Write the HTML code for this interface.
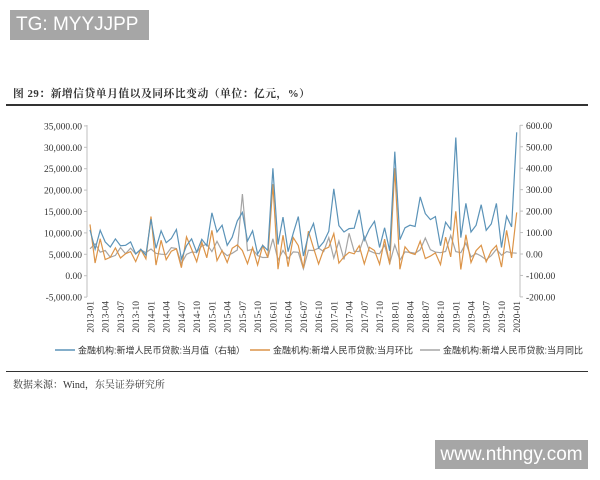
<!DOCTYPE html>
<html><head><meta charset="utf-8"><style>
html,body{margin:0;padding:0;background:#fff;}
body{width:600px;height:480px;position:relative;overflow:hidden;font-family:"Liberation Serif","Noto Serif CJK SC",serif;}
.tg{position:absolute;left:10px;top:10px;width:139px;height:30px;background:#a6a6a6;color:#fff;font:19px "Liberation Sans",sans-serif;line-height:30px;padding-left:6px;box-sizing:border-box;}
.title{position:absolute;left:13px;top:86px;font-size:10.8px;font-weight:bold;color:#333;font-family:"Liberation Serif","Noto Serif CJK SC",serif;letter-spacing:0.5px;}
.rule1{position:absolute;left:6px;top:104px;width:582px;height:2px;background:#333;}
.rule2{position:absolute;left:6px;top:371px;width:582px;height:1px;background:#333;}
.src{position:absolute;left:13px;top:376px;font-size:10px;color:#333;}
.wm{position:absolute;left:435px;top:440px;width:153px;height:29px;background:#a6a6a6;color:#fff;font:19px "Liberation Sans",sans-serif;line-height:29px;text-align:center;}
svg{position:absolute;left:0;top:0;}
</style></head><body>
<div class="tg">TG: MYYJJPP</div>
<div class="title">图 29：新增信贷单月值以及同环比变动（单位：亿元，%）</div>
<div class="rule1"></div>
<svg id="c" width="600" height="480" xmlns="http://www.w3.org/2000/svg"></svg>
<div class="rule2"></div>
<div class="src">数据来源：Wind，东吴证券研究所</div>
<div class="wm">www.nthngy.com</div>
<script>
var v=[10.7,6.2,10.6,7.9,6.7,8.6,7.0,7.1,7.9,5.1,6.2,4.8,
13.2,6.4,10.5,7.7,8.7,10.8,3.9,7.0,8.6,5.5,8.5,7.0,
14.7,10.2,11.8,7.1,9.0,12.8,14.8,8.1,10.5,5.1,7.1,5.9,
25.1,7.3,13.7,5.6,9.9,13.8,4.6,9.5,12.2,6.5,7.9,10.4,
20.3,11.7,10.2,11.0,11.1,15.4,8.3,10.9,12.7,6.6,11.2,5.8,
29.0,8.4,11.2,11.8,11.5,18.4,14.5,13.1,13.8,7.0,12.5,10.8,
32.3,8.9,16.9,10.2,11.8,16.6,10.6,12.1,16.9,6.6,13.9,11.4,33.5];
var p12=[8.6,4.2,9.8,6.8,7.9,9.2,5.4,7.0,6.2,5.1,5.2,4.5];
var X=function(i){return 90+i*5.08;};
var YL=function(k){return 275.7-k*1000*21.4/5000;};
var YR=function(p){return 254-p*0.2145;};
var s='';
var blue='',or='',gr='';
for(var i=0;i<v.length;i++){
 blue+=(i?'L':'M')+X(i).toFixed(1)+' '+YL(v[i]).toFixed(1);
 var prev=i?v[i-1]:4.5; var o=(v[i]/prev-1)*100;
 or+=(i?'L':'M')+X(i).toFixed(1)+' '+YR(o).toFixed(1);
 var y=i>=12?v[i-12]:p12[i]; var g=(v[i]/y-1)*100;
 gr+=(i?'L':'M')+X(i).toFixed(1)+' '+YR(g).toFixed(1);
}
s+='<line x1="87" y1="125" x2="87" y2="297" stroke="#bfbfbf"/>';
s+='<line x1="520" y1="125" x2="520" y2="297" stroke="#bfbfbf"/>';
var ll=['35,000.00','30,000.00','25,000.00','20,000.00','15,000.00','10,000.00','5,000.00','0.00','-5,000.00'];
for(var j=0;j<9;j++){var yy=YL(35-5*j);
 s+='<line x1="84" x2="87" y1="'+yy+'" y2="'+yy+'" stroke="#bfbfbf"/>';
 s+='<text x="82" y="'+(yy+3.5)+'" font-size="9.5" text-anchor="end" fill="#333" font-family="Liberation Serif">'+ll[j]+'</text>';}
var rl=['600.00','500.00','400.00','300.00','200.00','100.00','0.00','-100.00','-200.00'];
for(var j=0;j<9;j++){var yy=YR(600-100*j);
 s+='<line x1="520" x2="523" y1="'+yy+'" y2="'+yy+'" stroke="#bfbfbf"/>';
 s+='<text x="526" y="'+(yy+3.5)+'" font-size="9.5" fill="#333" font-family="Liberation Serif">'+rl[j]+'</text>';}
for(var i=0;i<v.length;i+=3){var yr=2013+Math.floor(i/12);var m=i%12+1;
 var lab=yr+'-'+(m<10?'0':'')+m;var xx=X(i)+3.5;
 s+='<text transform="translate('+xx+',301) rotate(-90)" font-size="9.5" text-anchor="end" fill="#333" font-family="Liberation Serif">'+lab+'</text>';}
s+='<path d="'+gr+'" fill="none" stroke="#a5a5a5" stroke-width="1.2"/>';
s+='<path d="'+or+'" fill="none" stroke="#dc9448" stroke-width="1.2"/>';
s+='<path d="'+blue+'" fill="none" stroke="#5b93b8" stroke-width="1.2"/>';
var lg=[[55,'#5b93b8','金融机构:新增人民币贷款:当月值（右轴）'],[250,'#dc9448','金融机构:新增人民币贷款:当月环比'],[420,'#a5a5a5','金融机构:新增人民币贷款:当月同比']];
lg.forEach(function(l){s+='<line x1="'+l[0]+'" x2="'+(l[0]+20)+'" y1="350" y2="350" stroke="'+l[1]+'" stroke-width="1.5"/>';
 s+='<text x="'+(l[0]+23)+'" y="353.5" font-size="9" fill="#333" font-family="Liberation Sans,Noto Sans CJK SC,sans-serif">'+l[2]+'</text>';});
document.getElementById('c').innerHTML=s;
</script>
</body></html>
